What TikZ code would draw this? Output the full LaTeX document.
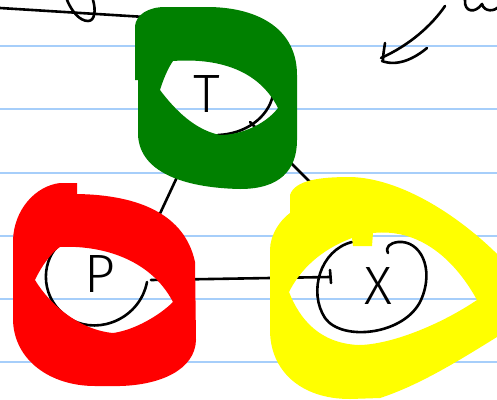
\documentclass[tikz,border=0pt]{standalone}
\usepackage{fontspec}
\newfontfamily\handfont{Fira Sans Light}
\definecolor{rulecol}{RGB}{166,206,250}
\definecolor{gblob}{RGB}{0,128,0}
\definecolor{rblob}{RGB}{255,0,0}
\definecolor{yblob}{RGB}{255,255,0}
\begin{document}
\begin{tikzpicture}[x=1pt,y=-1pt,
  ink/.style={line width=2.6pt,line cap=round,line join=round,black},
  ruleline/.style={rulecol,line width=2pt},
  letter/.style={inner sep=0pt,text=black,font=\handfont\fontsize{54}{54}\selectfont},
  blobfill/.style={fill=#1,even odd rule}]
\useasboundingbox (0,0) rectangle (497,399);
\fill[white] (0,0) rectangle (497,399);
\clip (0,0) rectangle (497,399);
% ruled paper
\foreach \yy in {46,109,173,236,299,362} \draw[ruleline] (0,\yy) -- (497,\yy);

% connector end points
\coordinate (Tp) at (192,145);
\coordinate (Pt) at (157,220);
\coordinate (Tx) at (250,122);
\coordinate (Xt) at (318,190);
\coordinate (Px) at (151,280);
\coordinate (Xp) at (330,277);
\coordinate (Xtick1) at (330,270);
\coordinate (Xtick2) at (331,283);
\coordinate (Wa) at (0,8);
\coordinate (Wb) at (145,17);

% connectors
\draw[ink] (Tp) -- (Pt);
\draw[ink] (Tx) -- (Xt);
\draw[ink] (Px) -- (Xp);
\draw[ink] (Xtick1) -- (Xtick2);
\draw[ink] (Wa) -- (Wb);

% scribbles at the top
\draw[ink] (67,0) .. controls (72,12) and (80,21) .. (88,21) .. controls (95,21) and (96,10) .. (93,0);
\draw[ink] (445,6) .. controls (432,25) and (410,45) .. (381,58);
\draw[ink] (385,43) .. controls (384,50) and (383,55) .. (383,60);
\draw[ink] (427,48) .. controls (415,58) and (398,67) .. (382,61);
\draw[ink] (465,0) .. controls (464,12) and (475,14) .. (482,4) .. controls (484,12) and (495,12) .. (499,6);

% hand-drawn circles round the letters
\draw[ink] (218,135) .. controls (245,134) and (268,118) .. (273,95);
\draw[ink] (57,247) .. controls (42,262) and (38,300) .. (72,320)
  .. controls (100,335) and (140,318) .. (147,282);
\draw[ink] (352,242) .. controls (320,250) and (308,292) .. (325,318)
  .. controls (342,342) and (405,335) .. (421,300)
  .. controls (435,268) and (420,240) .. (398,242)
  .. controls (390,243) and (385,247) .. (388,253);

% letters
\node[letter] (T) at (207,94) {T};
\node[letter] (P) at (100,274) {P};
\node[letter] (X) at (378,286) {X};

% green blob
\path[blobfill=gblob]
  (135,26) -- (135,80) -- (138,80) -- (138,135)
  .. controls (140,175) and (190,188) .. (240,189)
  .. controls (280,189) and (297,170) .. (297,140)
  -- (297,75)
  .. controls (297,30) and (260,8) .. (210,7)
  -- (165,7)
  .. controls (148,7) and (136,15) .. (135,26) -- cycle
  (160,90) .. controls (163,80) and (168,68) .. (173,61)
  .. controls (215,58) and (258,68) .. (278,108)
  .. controls (265,125) and (240,135) .. (220,135)
  .. controls (195,130) and (175,110) .. (160,90) -- cycle;

% red blob
\path[blobfill=rblob]
  (60,183) -- (77,183) -- (77,194)
  .. controls (140,195) and (185,215) .. (195,262)
  -- (196,340)
  .. controls (195,370) and (160,385) .. (120,386)
  -- (95,386)
  .. controls (50,386) and (14,360) .. (13,320)
  -- (13,240)
  .. controls (14,210) and (35,186) .. (60,183) -- cycle
  (35,280) .. controls (42,265) and (52,252) .. (60,247)
  .. controls (100,245) and (150,258) .. (173,302)
  .. controls (160,315) and (135,330) .. (113,333)
  .. controls (80,330) and (50,305) .. (35,280) -- cycle;

% yellow blob
\path[blobfill=yblob]
  (290,213) -- (290,195)
  .. controls (295,180) and (320,177) .. (350,177)
  .. controls (400,178) and (460,215) .. (505,262)
  -- (505,332)
  .. controls (460,360) and (420,385) .. (380,398)
  -- (350,399)
  .. controls (300,399) and (270,370) .. (270,330)
  -- (270,250)
  .. controls (270,235) and (280,220) .. (290,213) -- cycle
  (289,292) .. controls (300,270) and (320,250) .. (352,238)
  -- (353,246) -- (372,246) -- (373,233)
  .. controls (420,228) and (455,260) .. (477,300)
  .. controls (440,325) and (390,345) .. (358,345)
  .. controls (320,343) and (300,320) .. (289,292) -- cycle;
\end{tikzpicture}
\end{document}
